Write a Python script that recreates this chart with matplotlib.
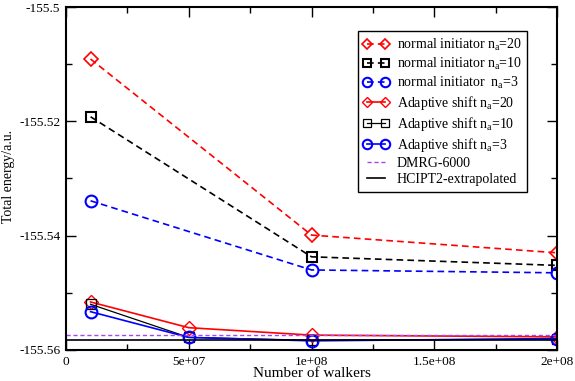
import numpy as np
import matplotlib
matplotlib.use('Agg')
from matplotlib import pyplot as plt
from matplotlib.ticker import MultipleLocator, FixedLocator, FixedFormatter

plt.rcParams['font.family'] = ['Liberation Serif', 'DejaVu Serif']
plt.rcParams['mathtext.fontset'] = 'custom'
plt.rcParams['mathtext.rm'] = 'Liberation Serif'
plt.rcParams['mathtext.it'] = 'Liberation Serif:italic'

# walkers
x_norm = [1e7, 1e8, 2e8]
x_adap = [1e7, 5e7, 1e8, 2e8]

# normal initiator
norm_20 = [-155.5091, -155.5399, -155.5430]
norm_10 = [-155.5192, -155.5437, -155.5452]
norm_3 = [-155.5339, -155.5460, -155.5465]

# adaptive shift
adap_20 = [-155.5516, -155.5561, -155.5574, -155.5577]
adap_10 = [-155.5520, -155.5578, -155.5583, -155.5581]
adap_3 = [-155.5533, -155.5578, -155.5584, -155.5580]

dmrg = -155.5574
hcipt2 = -155.5583

fig = plt.figure(figsize=(5.75, 3.81), dpi=100)
ax = fig.add_axes([0.1148, 0.0814, 0.854, 0.9002])

dash = (0, (4, 2.5))
lw = 1.2
ax.plot(x_norm, norm_20, color='red', ls=dash, lw=lw, marker='D', ms=7, mfc='none', mew=1.2,
        label=r'normal initiator n$_{\rm a}$=20')
ax.plot(x_norm, norm_10, color='black', ls=dash, lw=lw, marker='s', ms=7, mfc='none', mew=1.5,
        label=r'normal initiator n$_{\rm a}$=10')
ax.plot(x_norm, norm_3, color='blue', ls=dash, lw=lw, marker='o', ms=8.5, mfc='none', mew=1.5,
        label=r'normal initiator  n$_{\rm a}$=3')
ax.plot(x_adap, adap_20, color='red', ls='-', lw=lw, marker='D', ms=7, mfc='none', mew=1.0,
        label=r'Adaptive shift n$_{\rm a}$=20')
ax.plot(x_adap, adap_10, color='black', ls='-', lw=0.9, marker='s', ms=7, mfc='none', mew=0.9,
        label=r'Adaptive shift n$_{\rm a}$=10')
ax.plot(x_adap, adap_3, color='blue', ls='-', lw=lw, marker='o', ms=8.5, mfc='none', mew=1.5,
        label=r'Adaptive shift n$_{\rm a}$=3')
ax.axhline(dmrg, color='#a845f0', ls=(0, (3, 2)), lw=1.0, label='DMRG-6000')
ax.axhline(hcipt2, color='black', ls='-', lw=1.2, label='HCIPT2-extrapolated')

ax.set_xlim(0, 2e8)
ax.set_ylim(-155.56, -155.5)

ax.xaxis.set_major_locator(FixedLocator([0, 5e7, 1e8, 1.5e8, 2e8]))
ax.xaxis.set_major_formatter(FixedFormatter(['0', '5e+07', '1e+08', '1.5e+08', '2e+08']))
ax.xaxis.set_minor_locator(MultipleLocator(2.5e7))
ax.yaxis.set_major_locator(FixedLocator([-155.56, -155.54, -155.52, -155.5]))
ax.yaxis.set_major_formatter(FixedFormatter(['-155.56', '-155.54', '-155.52', '-155.5']))
ax.yaxis.set_minor_locator(MultipleLocator(0.01))

ax.tick_params(which='both', direction='in', top=True, right=True, labelsize=9.6, width=1.0)
ax.tick_params(which='major', length=7)
ax.tick_params(which='minor', length=4)
ax.tick_params(axis='x', pad=4)
ax.tick_params(axis='y', pad=4)
for s in ax.spines.values():
    s.set_linewidth(1.5)

ax.set_xlabel('Number of walkers', fontsize=11)
ax.set_ylabel('Total energy/a.u.', fontsize=10)
ax.xaxis.set_label_coords(0.5, -0.07, transform=ax.transAxes)
ax.xaxis.label.set_va('center')
ax.yaxis.set_label_coords(-0.104, 0.505)

leg = ax.legend(loc='upper right', bbox_to_anchor=(0.939, 0.930), borderaxespad=0,
                fontsize=10, numpoints=2, handlelength=1.9, labelspacing=0.22,
                markerscale=0.8, fancybox=False, framealpha=1, edgecolor='black',
                handletextpad=0.5, borderpad=0.4)
leg.get_frame().set_linewidth(1.0)

fig.savefig('out.png', dpi=100)
